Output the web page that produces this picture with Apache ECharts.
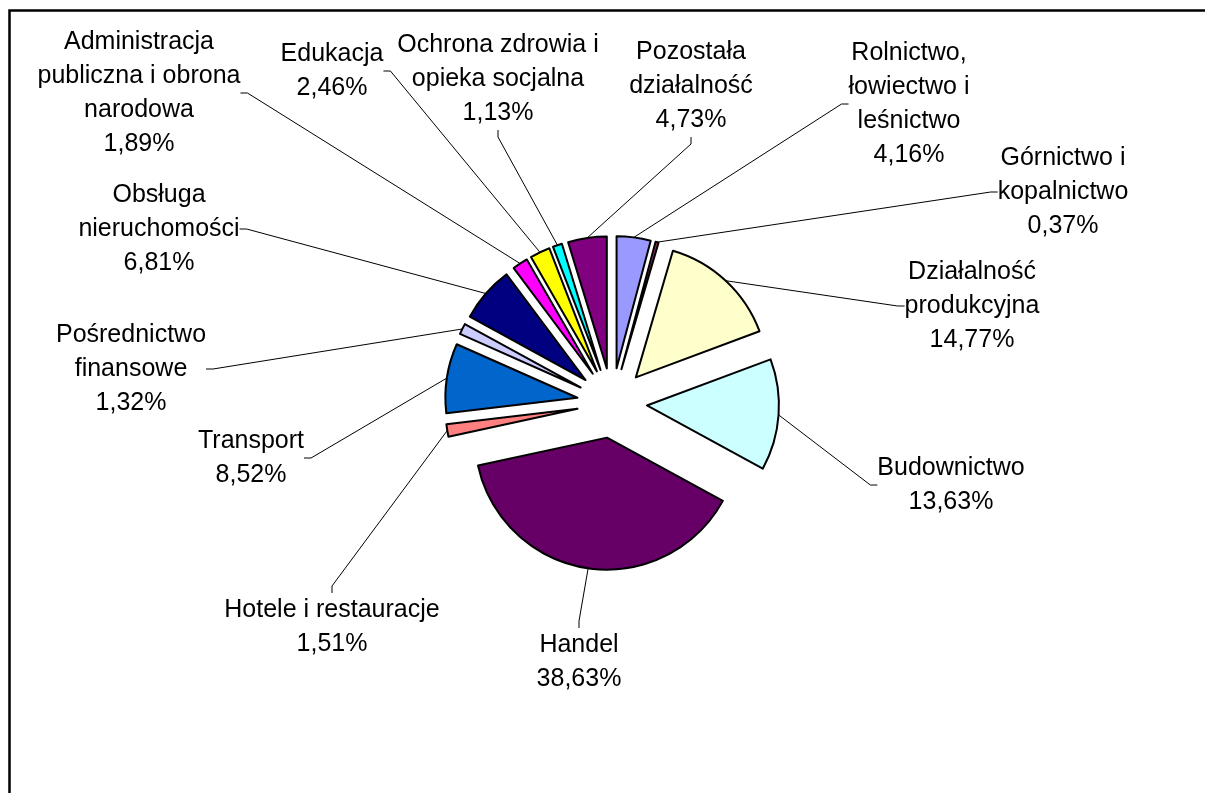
<!DOCTYPE html>
<html>
<head>
<meta charset="utf-8">
<title>Struktura</title>
<script src="https://cdn.jsdelivr.net/npm/echarts@6.0.0/dist/echarts.min.js"></script>
<style>
  html, body { margin: 0; padding: 0; background: #fff; }
  #chart { width: 1205px; height: 793px; }
</style>
</head>
<body>
<div id="chart"></div>
<script>
// dane (kolejność zgodnie z ruchem wskazówek zegara od góry)
var categories = [
  'Rolnictwo,\nłowiectwo i\nleśnictwo',
  'Górnictwo i\nkopalnictwo',
  'Działalność\nprodukcyjna',
  'Budownictwo',
  'Handel',
  'Hotele i restauracje',
  'Transport',
  'Pośrednictwo\nfinansowe',
  'Obsługa\nnieruchomości',
  'Administracja\npubliczna i obrona\nnarodowa',
  'Edukacja',
  'Ochrona zdrowia i\nopieka socjalna',
  'Pozostała\ndziałalność'
];
var values = [4.16, 0.37, 14.77, 13.63, 38.63, 1.51, 8.52, 1.32, 6.81, 1.89, 2.46, 1.13, 4.73];

// kolory jak w Excelu
var colors = ['#9999FF', '#993366', '#FFFFCC', '#CCFFFF', '#660066', '#FF8080', '#0066CC',
  '#CCCCFF', '#000080', '#FF00FF', '#FFFF00', '#00FFFF', '#800080'];

// środki etykiet (px)
var labelPos = [
  [909, 104], [1063, 192], [972, 306], [951, 485], [579, 662], [332, 627], [251, 458],
  [131, 369], [159, 229], [139, 93], [332, 71], [498, 79], [691, 86]
];

var R = 132;        // promień koła
var EXPLODE = 35;   // wysunięcie wycinków

var chart = echarts.init(document.getElementById('chart'));

var pieData = [];
var labelData = [];
for (var i = 0; i < values.length; i++) {
  pieData.push({
    name: categories[i],
    value: values[i],
    selected: true,
    itemStyle: { color: colors[i] }
  });
  labelData.push({ name: categories[i], value: values[i] });
}

chart.setOption({
  backgroundColor: '#fff',
  animation: false,
  graphic: [{
    type: 'polyline',
    shape: { points: [[9.5, 900], [9.5, 10.5], [1300, 10.5]] },
    style: { stroke: '#000', lineWidth: 2.5, fill: null },
    silent: true
  }],
  series: [
    {
      // wysunięte wycinki
      type: 'pie',
      center: [612, 403],
      radius: R,
      startAngle: 90,
      clockwise: true,
      selectedMode: 'multiple',
      selectedOffset: EXPLODE,
      itemStyle: { borderColor: '#000', borderWidth: 2 },
      emphasis: { disabled: true },
      select: { itemStyle: { borderColor: '#000', borderWidth: 2 } },
      label: { show: false },
      labelLine: { show: false },
      silent: true,
      data: pieData
    },
    {
      // niewidoczne koło tylko dla etykiet i linii odniesienia
      type: 'pie',
      center: [612, 403],
      radius: R + EXPLODE,
      startAngle: 90,
      clockwise: true,
      avoidLabelOverlap: false,
      silent: true,
      itemStyle: { color: 'rgba(0,0,0,0)', borderWidth: 0 },
      emphasis: { disabled: true },
      label: {
        show: true,
        position: 'outside',
        color: '#000',
        fontFamily: 'Liberation Sans, Arial, sans-serif',
        fontSize: 25,
        lineHeight: 34,
        align: 'center',
        formatter: function (p) {
          return p.name + '\n' + p.value.toFixed(2).replace('.', ',') + '%';
        }
      },
      labelLine: {
        show: true,
        length: 10,
        length2: 7,
        lineStyle: { color: '#000', width: 1 }
      },
      labelLayout: function (params) {
        var pos = labelPos[params.dataIndex];
        return { x: pos[0], y: pos[1], align: 'center', verticalAlign: 'middle' };
      },
      data: labelData
    }
  ]
});
</script>
</body>
</html>
